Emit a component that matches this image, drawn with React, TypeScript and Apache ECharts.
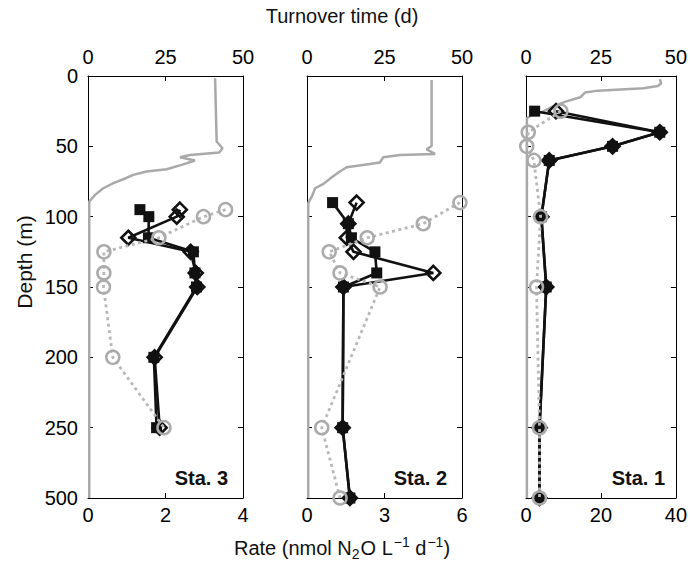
import React, { useEffect, useRef } from 'react';
import * as echarts from 'echarts';

// ---------- data ----------
const stationNames = ['Sta. 3', 'Sta. 2', 'Sta. 1'];
const rateMax = [4, 6, 40];
const turnoverMax = 50;
const depthTickLabels = ['0', '50', '100', '150', '200', '250', '500'];

// Station 3
const sta3Depths = [95, 100, 115, 125, 140, 150, 200, 250];
const sta3Squares = [1.34, 1.57, 1.56, 2.72, 2.76, 2.8, 1.7, 1.77];
const sta3Diamonds = [2.37, 2.29, 1.04, 2.65, 2.78, 2.82, 1.72, 1.85];
const sta3Circles = [3.55, 2.98, 1.83, 0.41, 0.41, 0.4, 0.64, 1.96];
const sta3TurnDepth = [1.6, 46.6, 51.4, 54.4, 56.1, 57.8, 60.1, 63.2, 66.3, 67.9, 70.3, 73.4, 76.2, 79.8, 84.5, 89.2, 500];
const sta3TurnTime = [41.0, 41.5, 43.4, 42.3, 32.9, 29.7, 34.5, 30.2, 25.4, 18.9, 14.6, 11.4, 8.2, 4.9, 2.3, 0.4, 0.4];

// Station 2
const sta2Depths = [90, 105, 115, 125, 140, 150, 250, 500];
const sta2Squares = [0.99, 1.6, 1.72, 2.63, 2.7, 1.41, 1.38, 1.66];
const sta2Diamonds = [1.92, 1.6, 1.54, 1.8, 4.89, 1.41, 1.38, 1.66];
const sta2Circles = [5.92, 4.5, 2.33, 0.86, 1.28, 2.83, 0.57, 1.28];
const sta2TurnDepth = [2.8, 49.7, 52.1, 55.4, 56.1, 57.8, 61.5, 62.5, 64.9, 67.9, 72.0, 76.7, 79.8, 84.5, 90.4, 500];
const sta2TurnTime = [40.2, 40.2, 38.6, 41.3, 30.0, 24.6, 23.5, 20.3, 12.8, 10.6, 8.0, 5.3, 2.6, 1.8, 0.4, 0.4];

// Station 1
const sta1Depths = [25, 40, 50, 60, 100, 150, 250, 500];
const sta1Squares = [2.3, 35.7, 23.1, 6.2, 4.1, 5.4, 3.6, 3.6];
const sta1Diamonds = [8.0, 35.7, 23.1, 6.2, 4.1, 5.4, 3.6, 3.6];
const sta1Circles = [9.3, 0.6, 0.2, 2.1, 3.9, 2.8, 3.6, 3.6];
const sta1TurnDepth = [2.3, 5.2, 7.1, 8.7, 10.4, 11.8, 15.1, 18.2, 21.8, 25.3, 27.7, 30.0, 500];
const sta1TurnTime = [44.6, 45.1, 44.0, 39.2, 24.0, 19.7, 18.1, 13.2, 8.9, 5.6, 1.9, 0.3, 0.3];

const stations = [
  { depths: sta3Depths, squares: sta3Squares, diamonds: sta3Diamonds, circles: sta3Circles, turnDepth: sta3TurnDepth, turnTime: sta3TurnTime },
  { depths: sta2Depths, squares: sta2Squares, diamonds: sta2Diamonds, circles: sta2Circles, turnDepth: sta2TurnDepth, turnTime: sta2TurnTime },
  { depths: sta1Depths, squares: sta1Squares, diamonds: sta1Diamonds, circles: sta1Circles, turnDepth: sta1TurnDepth, turnTime: sta1TurnTime },
];

// depth axis is linear to 250 m, then 250–500 m compressed into one tick step
const tf = (d: number) => (d <= 250 ? d : 250 + (d - 250) / 5);

// ---------- layout ----------
const FONT = '"Liberation Sans", Arial, Helvetica, sans-serif';
const gridLefts = [88, 307, 526];
const gridWidths = [155, 155, 154];
const gridTop = 76;
const gridHeight = 422;

function buildOption() {
  const grid: any[] = [];
  const xAxis: any[] = [];
  const yAxis: any[] = [];
  const series: any[] = [];
  const graphic: any[] = [];

  const axisLine = { show: true, onZero: false, lineStyle: { color: '#000', width: 1 } };
  const axisTick = { show: true, inside: true, length: 5, lineStyle: { color: '#000', width: 1 } };

  stations.forEach((st, i) => {
    grid.push({ left: gridLefts[i], top: gridTop, width: gridWidths[i], height: gridHeight, containLabel: false });
    xAxis.push({
      type: 'value', gridIndex: i, position: 'bottom', min: 0, max: rateMax[i], interval: rateMax[i] / 2,
      axisLine, axisTick, splitLine: { show: false },
      axisLabel: { color: '#000', fontSize: 20, fontFamily: FONT, margin: 7 },
    });
    xAxis.push({
      type: 'value', gridIndex: i, position: 'top', min: 0, max: turnoverMax, interval: 25,
      axisLine, axisTick, splitLine: { show: false },
      axisLabel: { color: '#000', fontSize: 20, fontFamily: FONT, margin: 9 },
    });
    yAxis.push({
      type: 'value', gridIndex: i, position: 'left', min: 0, max: 300, interval: 50, inverse: true,
      axisLine, axisTick, splitLine: { show: false },
      axisLabel: {
        show: i === 0, color: '#000', fontSize: 20, fontFamily: FONT, margin: 10,
        formatter: (v: number) => depthTickLabels[Math.round(v / 50)],
      },
    });
    yAxis.push({
      type: 'value', gridIndex: i, position: 'right', min: 0, max: 300, interval: 50, inverse: true,
      axisLine, axisTick, splitLine: { show: false }, axisLabel: { show: false },
    });

    const xb = 2 * i;
    const xt = 2 * i + 1;
    const yl = 2 * i;

    series.push({
      type: 'line', xAxisIndex: xt, yAxisIndex: yl, showSymbol: false, symbol: 'none', clip: false,
      data: st.turnDepth.map((d, k) => [st.turnTime[k], tf(d)]),
      lineStyle: { color: '#a9a9a9', width: 2.5 }, z: 2,
    });
    series.push({
      type: 'line', xAxisIndex: xb, yAxisIndex: yl, symbol: 'rect', symbolSize: 11, clip: false,
      data: st.depths.map((d, k) => [st.squares[k], tf(d)]),
      lineStyle: { color: '#111', width: 2.6 }, itemStyle: { color: '#111' }, z: 3,
    });
    series.push({
      type: 'line', xAxisIndex: xb, yAxisIndex: yl, symbol: 'diamond', symbolSize: 14, clip: false,
      data: st.depths.map((d, k) => [st.diamonds[k], tf(d)]),
      lineStyle: { color: '#111', width: 2.6 },
      itemStyle: { color: 'rgba(0,0,0,0)', borderColor: '#111', borderWidth: 2.6 }, z: 4,
    });
    series.push({
      type: 'line', xAxisIndex: xb, yAxisIndex: yl, symbol: 'circle', symbolSize: 13, clip: false,
      data: st.depths.map((d, k) => [st.circles[k], tf(d)]),
      lineStyle: { color: '#b8b8b8', width: 2.8, type: [3, 3.5] },
      itemStyle: { color: 'rgba(0,0,0,0)', borderColor: '#ababab', borderWidth: 2.5 }, z: 5,
    });

    graphic.push({
      type: 'text', right: 690 - (gridLefts[i] + gridWidths[i] - 15), top: 468,
      style: { text: stationNames[i], font: `bold 20px ${FONT}`, fill: '#111' },
    });
  });

  graphic.push({
    type: 'text', x: 342, y: 16,
    style: { text: 'Turnover time (d)', font: `20px ${FONT}`, fill: '#111', align: 'center', verticalAlign: 'middle' },
  });
  graphic.push({
    type: 'text', x: 24, y: 262, rotation: Math.PI / 2,
    style: { text: 'Depth (m)', font: `21px ${FONT}`, fill: '#111', align: 'center', verticalAlign: 'middle' },
  });
  graphic.push({
    type: 'text', x: 342, y: 548,
    style: {
      text: '{a|Rate (nmol N}{sub|2}{a|O L}{sup|−1}{a| d}{sup|−1}{a|)}',
      align: 'center', verticalAlign: 'middle', fill: '#111',
      rich: {
        a: { fontSize: 20, fontFamily: FONT, color: '#111', lineHeight: 26, verticalAlign: 'middle' },
        sub: { fontSize: 14, fontFamily: FONT, color: '#111', lineHeight: 26, verticalAlign: 'bottom', padding: [0, 1, 0, 0] },
        sup: { fontSize: 14, fontFamily: FONT, color: '#111', lineHeight: 26, verticalAlign: 'top', padding: [0, 0, 0, 1] },
      },
    },
  });

  return { animation: false, backgroundColor: '#fff', grid, xAxis, yAxis, series, graphic };
}

export default function App() {
  const ref = useRef<HTMLDivElement>(null);
  useEffect(() => {
    if (!ref.current) return;
    const chart = echarts.init(ref.current, undefined, { renderer: 'svg' });
    chart.setOption(buildOption() as any);
    return () => chart.dispose();
  }, []);
  return <div ref={ref} style={{ position: 'fixed', left: 0, top: 0, width: 690, height: 561 }} />;
}
